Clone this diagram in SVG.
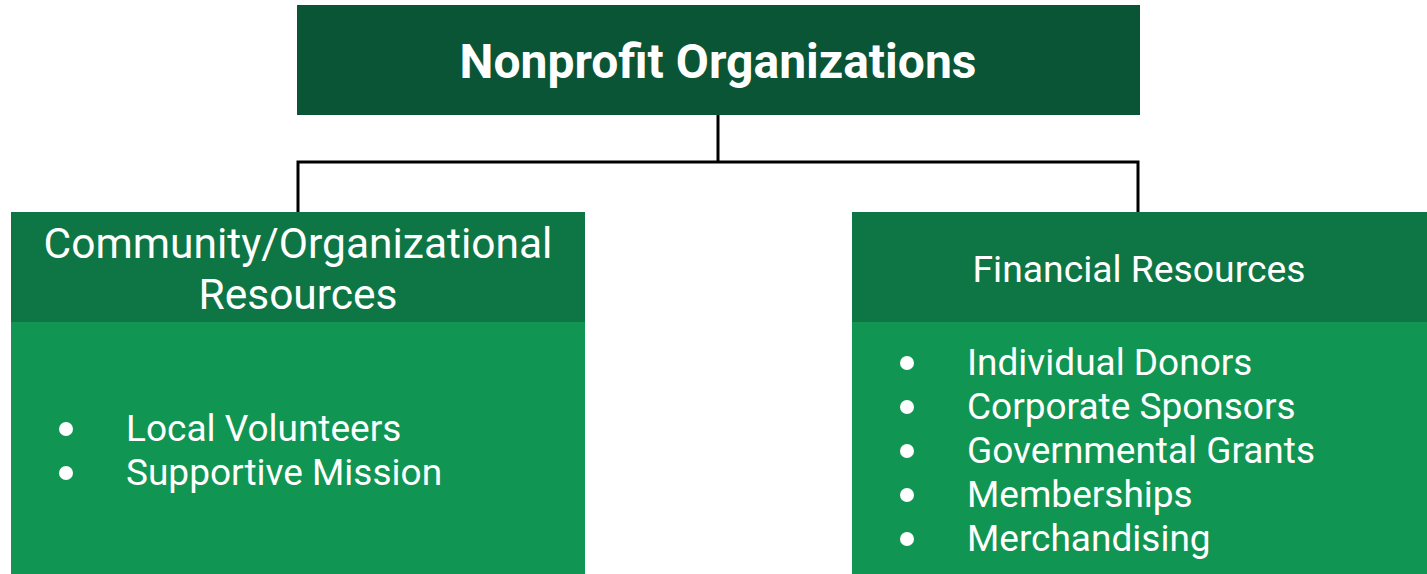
<svg xmlns="http://www.w3.org/2000/svg" width="1427" height="574" viewBox="0 0 1427 574">
<style>
.t{font-family:Roboto,"Liberation Sans",sans-serif;fill:#ffffff}
.title{font-size:48px;font-weight:bold}
.hd{font-size:42.5px}
.hr{font-size:37.3px}
.li{font-size:37px}
.hdr{fill:#0e7644}
.body{fill:#119553}
.conn{fill:none;stroke:#000;stroke-width:3}
</style>
<rect width="1427" height="574" fill="#ffffff"/>
<g id="connectors">
<path class="conn" d="M718 115 V162 M298 212 V162 H1138 V212"/>
</g>
<g id="root">
<rect x="297" y="5" width="843" height="110" fill="#0a5535"/>
<text class="t title" x="718" y="78" text-anchor="middle">Nonprofit Organizations</text>
</g>
<g id="community">
<rect class="hdr" x="11" y="212" width="574" height="110"/>
<rect class="body" x="11" y="322" width="574" height="252"/>
<text class="t hd" x="298" y="258" text-anchor="middle">Community/Organizational</text>
<text class="t hd" x="298" y="309" text-anchor="middle">Resources</text>
<text class="t li" x="126" y="441">Local Volunteers</text>
<text class="t li" x="126" y="485">Supportive Mission</text>
<circle cx="66" cy="429" r="7" fill="#fff"/>
<circle cx="66" cy="473" r="7" fill="#fff"/>
</g>
<g id="financial">
<rect class="hdr" x="852" y="212" width="575" height="110"/>
<rect class="body" x="852" y="322" width="575" height="252"/>
<text class="t hr" x="1139" y="282" text-anchor="middle">Financial Resources</text>
<text class="t li" x="967" y="375">Individual Donors</text>
<text class="t li" x="967" y="419">Corporate Sponsors</text>
<text class="t li" x="967" y="463">Governmental Grants</text>
<text class="t li" x="967" y="507">Memberships</text>
<text class="t li" x="967" y="551">Merchandising</text>
<circle cx="907" cy="363" r="7" fill="#fff"/>
<circle cx="907" cy="407" r="7" fill="#fff"/>
<circle cx="907" cy="451" r="7" fill="#fff"/>
<circle cx="907" cy="495" r="7" fill="#fff"/>
<circle cx="907" cy="539" r="7" fill="#fff"/>
</g>
</svg>
